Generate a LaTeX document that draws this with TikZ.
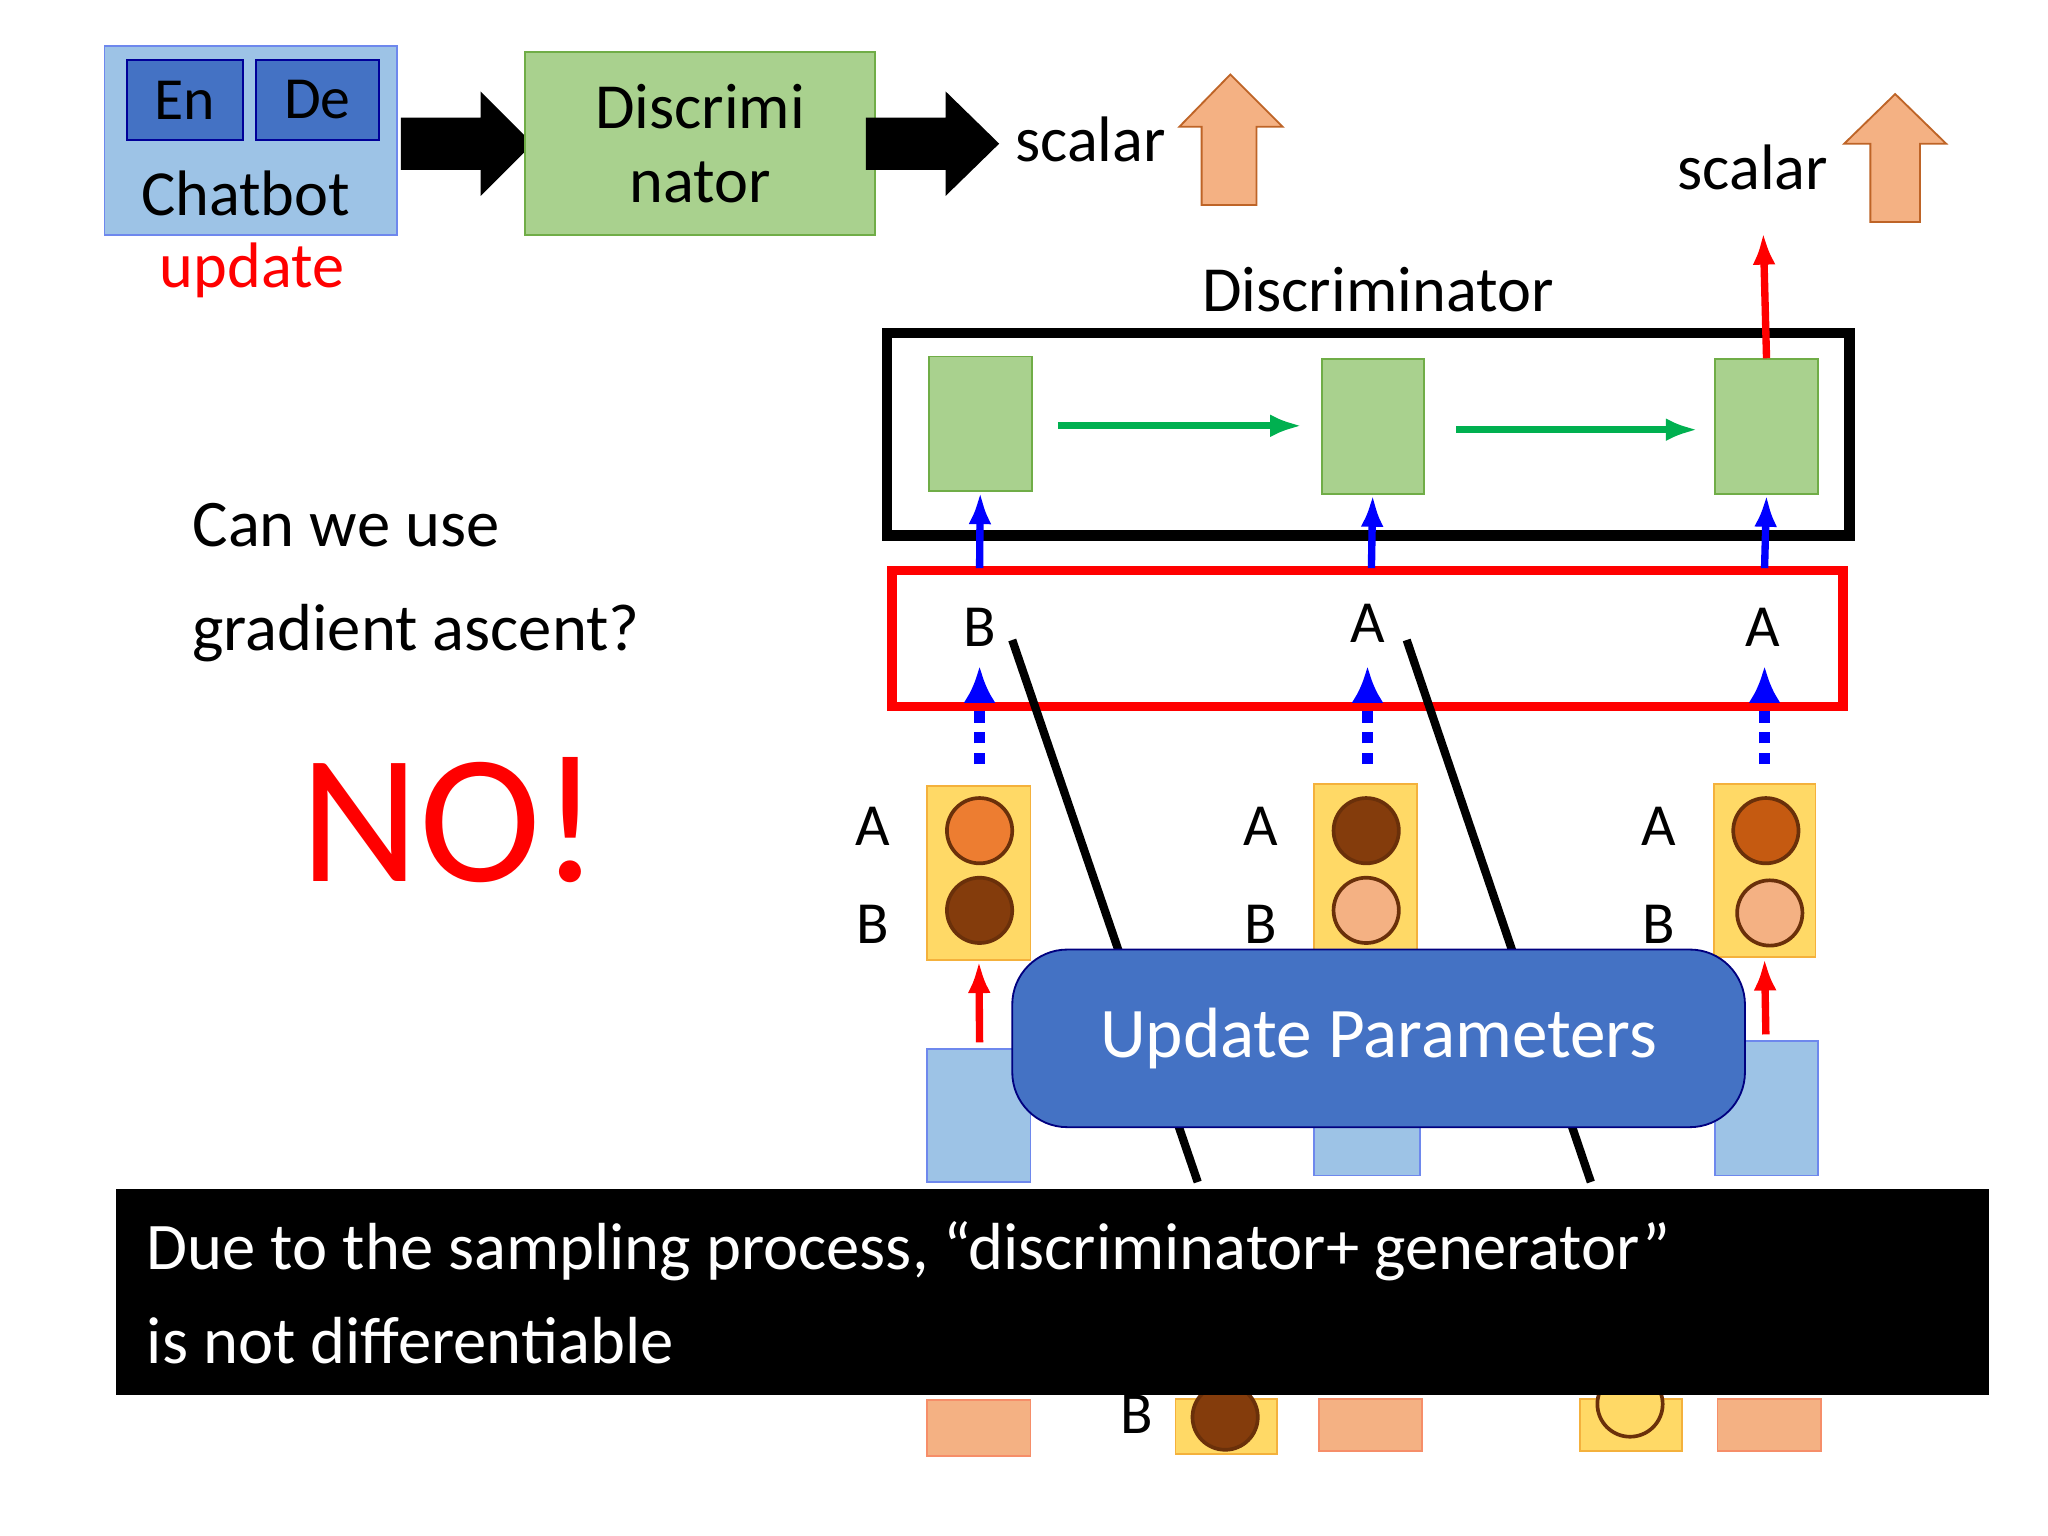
\documentclass[tikz,border=0pt]{standalone}
\usepackage{fontspec}
\setmainfont{Carlito}
\usetikzlibrary{arrows.meta}
\definecolor{lblue}{RGB}{157,195,230}
\definecolor{mblue}{RGB}{68,114,196}
\definecolor{lgreen}{RGB}{169,209,142}
\definecolor{dgreen}{RGB}{112,173,71}
\definecolor{peach}{RGB}{244,177,131}
\definecolor{lorange}{RGB}{237,125,49}
\definecolor{brownc}{RGB}{132,60,12}
\definecolor{rust}{RGB}{197,90,17}
\definecolor{ylw}{RGB}{255,217,102}
\definecolor{ylwb}{RGB}{244,177,60}
\definecolor{gblue}{RGB}{0,176,80}
\newcommand{\fs}[1]{\fontsize{#1pt}{#1pt}\selectfont}
\tikzset{
 gbox/.style={draw=dgreen,fill=lgreen},
 ybox/.style={draw=ylwb,fill=ylw},
 bbox/.style={draw=lblue!70!blue,fill=lblue},
 sbox/.style={draw=peach!80!red,fill=peach},
 circ/.style={circle,minimum size=50*0.01cm,inner sep=0pt,draw=brownc!80!black,thick},
 lab/.style={font=\fs{13}},
 bigarr/.style={fill=black},
 uparr/.style={draw=lorange!80!black,fill=peach},
 bar/.style={-{Latex[length=7pt,width=5pt]},line width=1.6pt},
}
\begin{document}
\begin{tikzpicture}[x=0.01cm,y=-0.01cm]
\useasboundingbox (0,0) rectangle (1568,1176);
\fill[white] (0,0) rectangle (1568,1176);
% chatbot
\node[draw=lblue!70!blue,fill=lblue,minimum width=224*0.01cm,minimum height=145*0.01cm,inner sep=0pt] (cb) at (192,107.5) {};
\node[draw=blue!60!black,fill=mblue,minimum width=89*0.01cm,minimum height=61*0.01cm,inner sep=0pt,font=\fs{13}] (en) at (141.5,76.5) {En};
\node[draw=blue!60!black,fill=mblue,minimum width=94*0.01cm,minimum height=61*0.01cm,inner sep=0pt,font=\fs{13}] (de) at (243,76.5) {De};
\node[font=\fs{14}] (chat) at (188,148) {Chatbot};
\node[font=\fs{14},text=red] (upd) at (193,207) {update};
\fill[bigarr] (307,90)--(368,90)--(368,70)--(408,110)--(368,150)--(368,130)--(307,130)--cycle;
\node[gbox,minimum width=268*0.01cm,minimum height=140*0.01cm,align=center,font=\fs{14}] (disc) at (536,110) {Discrimi\\[2pt]nator};
\fill[bigarr] (663,90)--(724,90)--(724,70)--(765,110)--(724,150)--(724,130)--(663,130)--cycle;
\node[font=\fs{14}] (sc1) at (835,107) {scalar};
\draw[uparr] (920,157)--(920,97)--(903,97)--(942,57)--(982,97)--(962,97)--(962,157)--cycle;
\node[font=\fs{14}] (sc2) at (1342,128) {scalar};
\draw[uparr] (1432,170)--(1432,110)--(1412,110)--(1451,72)--(1490,110)--(1470,110)--(1470,170)--cycle;
\node[font=\fs{14}] (dt) at (1055,222) {Discriminator};
\draw[line width=2.2pt] (679,255) rectangle (1416,410);
\node[gbox,minimum width=79*0.01cm,minimum height=103*0.01cm] (g1) at (750.5,324.5) {};
\node[gbox,minimum width=78*0.01cm,minimum height=103*0.01cm] (g2) at (1051,326.5) {};
\node[gbox,minimum width=79*0.01cm,minimum height=103*0.01cm] (g3) at (1352.5,326.5) {};
\draw[gblue,line width=1.6pt,-{Latex[length=7pt,width=5pt]}] (810,326)--(997,326);
\draw[gblue,line width=1.6pt,-{Latex[length=7pt,width=5pt]}] (1115,329)--(1300,329);
\draw[bar,red] (g3.north)--(1350,178);
\draw[red,line width=2pt] (683,437) rectangle (1411,541);
\node[font=\fs{13}] (l1) at (750,480) {B};
\node[font=\fs{13}] (l2) at (1047,477) {A};
\node[font=\fs{13}] (l3) at (1350,480) {A};
\draw[bar,blue] (750,435)--(g1.south);
\draw[bar,blue] (1050,435)--(g2.south);
\draw[bar,blue] (1351,435)--(g3.south);
\draw[blue,line width=2.5pt,dotted,-{Latex[length=8pt,width=7pt]}] (750,585)--(750,510);
\draw[blue,line width=2.5pt,dotted,-{Latex[length=8pt,width=7pt]}] (1047,585)--(1047,510);
\draw[blue,line width=2.5pt,dotted,-{Latex[length=8pt,width=7pt]}] (1351,585)--(1351,510);
% yellow boxes
\node[ybox,minimum width=79*0.01cm,minimum height=133*0.01cm] (y1) at (749.5,668.5) {};
\node[ybox,minimum width=79*0.01cm,minimum height=133*0.01cm] (y2) at (1045.5,666.5) {};
\node[ybox,minimum width=78*0.01cm,minimum height=133*0.01cm] (y3) at (1351,666.5) {};
\node[circ,fill=lorange] (c11) at (750,636) {};
\node[circ,fill=brownc] (c12) at (750,697) {};
\node[circ,fill=brownc] (c21) at (1046,636) {};
\node[circ,fill=peach] (c22) at (1046,697) {};
\node[circ,fill=rust] (c31) at (1352,636) {};
\node[circ,fill=peach] (c32) at (1355,699) {};
\foreach \x/\n in {668/a,965/b,1270/c}{
 \node[font=\fs{13}] (A\n) at (\x,633) {A};
 \node[font=\fs{13}] (B\n) at (\x,708) {B};}
\node[bbox,minimum width=79*0.01cm,minimum height=102*0.01cm] (b1) at (749.5,854) {};
\node[bbox,minimum width=81*0.01cm,minimum height=100*0.01cm] (b2) at (1046.5,850) {};
\node[bbox,minimum width=79*0.01cm,minimum height=103*0.01cm] (b3) at (1352.5,848.5) {};
\draw[bar,red] (750,798)--(y1.south);
\draw[bar,red] (1352,792)--(y3.south);
\draw[line width=1.8pt] (775,490)--(917,905);
\draw[line width=1.8pt] (1077,490)--(1218,905);
\node[draw=blue!50!black,fill=mblue,rounded corners=12pt,minimum width=561*0.01cm,minimum height=136*0.01cm,text=white,font=\fs{15.5}] (up) at (1055.5,795) {Update Parameters};
% text left
\node[anchor=west,align=left,font=\fs{14.5}] (q) at (135,446) {Can we use\\[8pt]gradient ascent?};
\node[text=red,font=\fs{40}] (no) at (345,628) {NO!};
% bottom
\node[sbox,minimum width=79*0.01cm,minimum height=43*0.01cm] (s1) at (749.5,1093.5) {};
\node[sbox,minimum width=79*0.01cm,minimum height=40*0.01cm] (s2) at (1049.5,1091) {};
\node[sbox,minimum width=79*0.01cm,minimum height=40*0.01cm] (s3) at (1354.5,1091) {};
\node[ybox,minimum width=78*0.01cm,minimum height=42*0.01cm] (y4) at (939,1092) {};
\node[ybox,minimum width=78*0.01cm,minimum height=40*0.01cm] (y5) at (1249,1091) {};
\node[circ,fill=brownc] (c4) at (938,1085) {};
\node[circ,fill=ylw] (c5) at (1248,1075) {};
\node[font=\fs{13}] (bb) at (870,1083) {B};
\node[fill=black,minimum width=1434*0.01cm,minimum height=158*0.01cm,inner sep=0pt] (ban) at (806,989) {};
\node[anchor=west,align=left,text=white,font=\fs{14.5}] (bt) at (100,990) {Due to the sampling process, “discriminator+ generator”\\[6pt]is not differentiable};
\end{tikzpicture}
\end{document}
